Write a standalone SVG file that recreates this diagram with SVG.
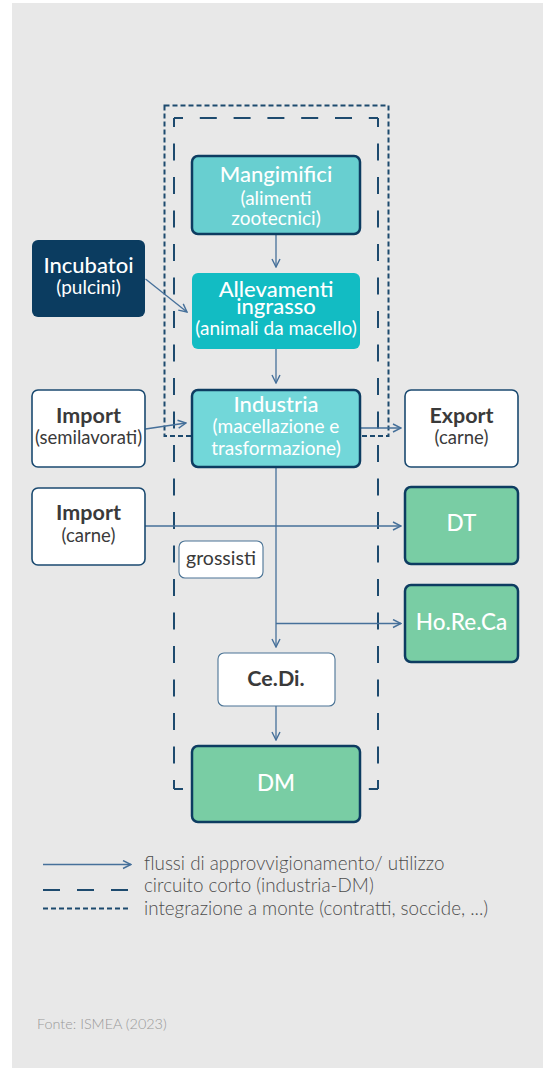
<svg xmlns="http://www.w3.org/2000/svg" width="543" height="1068" viewBox="0 0 543 1068">
  <defs>
    <marker id="arr" viewBox="0 0 10 10" refX="9" refY="5" markerWidth="10" markerHeight="10" markerUnits="userSpaceOnUse" orient="auto">
      <path d="M1,1 L9,5 L1,9" fill="none" stroke="#46709a" stroke-width="1.4"/>
    </marker>
    <style>
      .t { font-family: Lato, "Liberation Sans", sans-serif; text-anchor: middle; }
      .ttl { font-size: 22px; font-weight: 500; fill: #ffffff; }
      .sub { font-size: 19px; font-weight: 400; fill: #ffffff; }
      .dttl { font-size: 21.5px; font-weight: 700; fill: #3a3a3a; }
      .dsub { font-size: 18.5px; font-weight: 400; fill: #3a3a3a; }
      .grn { font-size: 22.5px; font-weight: 500; fill: #ffffff; }
      .teal { stroke: #0d3c61; stroke-width: 2.5; }
      .wbox { fill: #ffffff; stroke: #1b4a70; stroke-width: 1.6; }
      .lbox { fill: #ffffff; stroke: #4a7395; stroke-width: 1.1; }
      .green { fill: #79cda4; stroke: #0d3c61; stroke-width: 2.5; }
      .conn { stroke: #46709a; stroke-width: 1.3; fill: none; }
      .dash { stroke: #1d4a6e; stroke-width: 2; fill: none; }
      .leg { font-family: Lato, "Liberation Sans", sans-serif; font-size: 18.8px; font-weight: 300; fill: #4d4d4d; }
    </style>
  </defs>

  <rect x="12" y="3" width="531" height="1065" fill="#e8e8e8"/>

  <g id="frames">
    <rect x="164.5" y="105.5" width="224" height="330.5" fill="none" stroke="#1d4a6e" stroke-width="2" stroke-dasharray="5,3"/>
    <path class="dash" d="M174,118 H378" stroke-dasharray="17,16.8" stroke-dashoffset="8"/>
    <path class="dash" d="M174,789 H378" stroke-dasharray="17,16.8" stroke-dashoffset="8"/>
    <path class="dash" d="M174,118 V789" stroke-dasharray="17,16.5" stroke-dashoffset="8"/>
    <path class="dash" d="M378,118 V789" stroke-dasharray="17,16.5" stroke-dashoffset="8"/>
  </g>

  <g id="connectors">
    <line class="conn" x1="276" y1="234" x2="276" y2="267" marker-end="url(#arr)"/>
    <line class="conn" x1="145.5" y1="279" x2="187" y2="312" marker-end="url(#arr)"/>
    <line class="conn" x1="276" y1="349" x2="276" y2="383" marker-end="url(#arr)"/>
    <line class="conn" x1="145.5" y1="429" x2="186" y2="423" marker-end="url(#arr)"/>
    <line class="conn" x1="360" y1="428" x2="401" y2="428" marker-end="url(#arr)"/>
    <line class="conn" x1="145" y1="526" x2="401" y2="526" marker-end="url(#arr)"/>
    <line class="conn" x1="276" y1="467" x2="276" y2="647" marker-end="url(#arr)"/>
    <line class="conn" x1="276" y1="623.5" x2="401" y2="623.5" marker-end="url(#arr)"/>
    <line class="conn" x1="276" y1="706" x2="276" y2="740" marker-end="url(#arr)"/>
  </g>

  <g id="mangimifici">
    <rect class="teal" x="192" y="156" width="168" height="78" rx="6" fill="#68cfd0"/>
    <text class="t ttl" x="276" y="182">Mangimifici</text>
    <text class="t sub" x="276" y="205">(alimenti</text>
    <text class="t sub" x="276" y="225">zootecnici)</text>
  </g>

  <g id="allevamenti">
    <rect x="192" y="273" width="168" height="76" rx="6" fill="#12bcc3"/>
    <text class="t ttl" x="276" y="297">Allevamenti</text>
    <text class="t ttl" x="276" y="314">ingrasso</text>
    <text class="t sub" x="276" y="335">(animali da macello)</text>
  </g>

  <g id="industria">
    <rect class="teal" x="192" y="390" width="168" height="77" rx="6" fill="#72d7d9"/>
    <text class="t ttl" x="276" y="412">Industria</text>
    <text class="t sub" x="276" y="433">(macellazione e</text>
    <text class="t sub" x="276" y="455">trasformazione)</text>
  </g>

  <g id="incubatoi">
    <rect x="32" y="240" width="113" height="77" rx="6" fill="#0b3c60"/>
    <text class="t ttl" x="88.5" y="273">Incubatoi</text>
    <text class="t sub" x="88.5" y="294">(pulcini)</text>
  </g>

  <g id="import-semilavorati">
    <rect class="wbox" x="32" y="390" width="113" height="77" rx="6"/>
    <text class="t dttl" x="88.5" y="423">Import</text>
    <text class="t dsub" x="88.5" y="444">(semilavorati)</text>
  </g>

  <g id="export">
    <rect class="wbox" x="405" y="390" width="113" height="77" rx="6"/>
    <text class="t dttl" x="461.5" y="423">Export</text>
    <text class="t dsub" x="461.5" y="444">(carne)</text>
  </g>

  <g id="import-carne">
    <rect class="wbox" x="32" y="488" width="113" height="77" rx="6"/>
    <text class="t dttl" x="88.5" y="520">Import</text>
    <text class="t dsub" x="88.5" y="542">(carne)</text>
  </g>

  <g id="dt">
    <rect class="green" x="405" y="487" width="113" height="77" rx="6"/>
    <text class="t grn" x="461.5" y="531">DT</text>
  </g>

  <g id="grossisti">
    <rect class="lbox" x="179" y="541" width="84" height="37" rx="6"/>
    <text class="t dsub" x="221" y="565" style="font-size:19.5px">grossisti</text>
  </g>

  <g id="horeca">
    <rect class="green" x="405" y="585" width="113" height="77" rx="6"/>
    <text class="t grn" x="461.5" y="630">Ho.Re.Ca</text>
  </g>

  <g id="cedi">
    <rect class="lbox" x="218" y="653" width="117" height="53" rx="6"/>
    <text class="t dttl" x="276" y="686">Ce.Di.</text>
  </g>

  <g id="dm">
    <rect class="green" x="192" y="746" width="168" height="76" rx="6"/>
    <text class="t grn" x="276" y="791">DM</text>
  </g>

  <g id="legend">
    <line class="conn" x1="43" y1="864.5" x2="131" y2="864.5" marker-end="url(#arr)"/>
    <line x1="43" y1="890" x2="131" y2="890" stroke="#1d4a6e" stroke-width="2" stroke-dasharray="17,17"/>
    <line x1="43" y1="908.5" x2="131" y2="908.5" stroke="#1d4a6e" stroke-width="2" stroke-dasharray="5,3"/>
    <text class="leg" x="144" y="870">flussi di approvvigionamento/ utilizzo</text>
    <text class="leg" x="144" y="892">circuito corto (industria-DM)</text>
    <text class="leg" x="144" y="915">integrazione a monte (contratti, soccide, ...)</text>
    <text x="37" y="1029" font-family="Lato, 'Liberation Sans', sans-serif" font-size="14.4" font-weight="300" fill="#999999">Fonte: ISMEA (2023)</text>
  </g>
</svg>
